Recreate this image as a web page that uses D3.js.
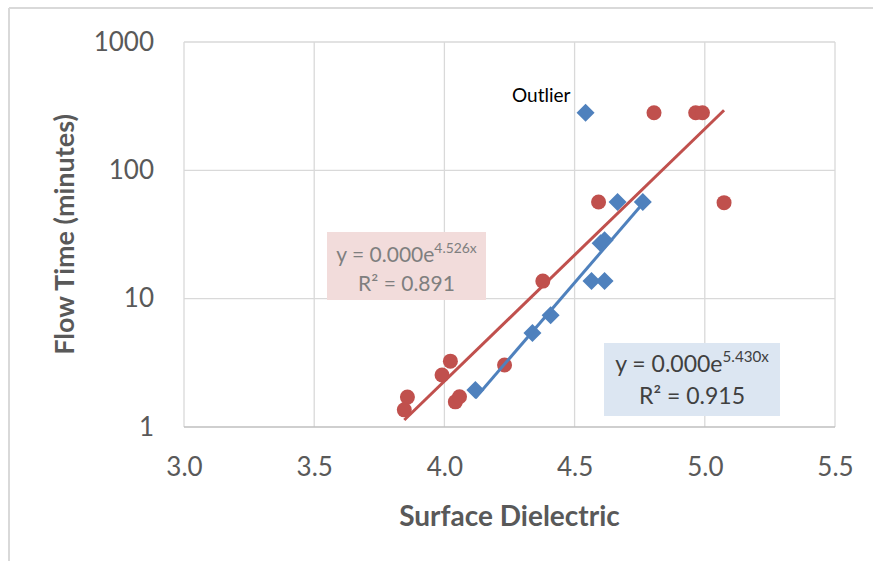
<!DOCTYPE html>
<html>
<head>
<meta charset="utf-8">
<script src="https://cdn.jsdelivr.net/npm/d3@7"></script>
<style>
  html, body { margin: 0; padding: 0; background: #fff; }
  svg { display: block; font-family: Lato, "Open Sans", sans-serif; }
</style>
</head>
<body>
<svg id="chart" width="873" height="561"></svg>
<script>
// ---- data ----
const xTicks = [3.0, 3.5, 4.0, 4.5, 5.0, 5.5];
const yTicks = [1, 10, 100, 1000];

// Series 1 (blue diamonds)
const blueX = [4.119, 4.338, 4.408, 4.565, 4.615, 4.600, 4.615, 4.665, 4.762];
const blueY = [1.94, 5.39, 7.44, 13.7, 13.7, 27.0, 28.5, 56.7, 56.7];
// Outlier (blue, excluded from fit)
const outlierX = [4.542];
const outlierY = [281];

// Series 2 (red circles)
const redX = [3.846, 3.858, 3.991, 4.023, 4.042, 4.058, 4.231, 4.378, 4.592, 4.805, 4.965, 4.991, 5.074];
const redY = [1.36, 1.71, 2.54, 3.26, 1.57, 1.72, 3.04, 13.7, 56.7, 281, 281, 281, 56];

// Trendline exponents (from equations)
const blueSlope = 5.430;
const redSlope = 4.526;
const blueEq = ["y = 0.000e", "5.430x", "R² = 0.915"];
const redEq = ["y = 0.000e", "4.526x", "R² = 0.891"];

// ---- chart ----
const svg = d3.select("#chart");
const W = 873, H = 561;
const plot = { left: 184, right: 835, top: 42, bottom: 427 };

const x = d3.scaleLinear().domain([3.0, 5.5]).range([plot.left, plot.right]);
const y = d3.scaleLog().domain([1, 1000]).range([plot.bottom, plot.top]);

// outer border (left and top)
svg.append("line").attr("x1", 9).attr("x2", 9).attr("y1", 8).attr("y2", H)
  .attr("stroke", "#d9d9d9").attr("stroke-width", 2);
svg.append("line").attr("x1", 9).attr("x2", W).attr("y1", 8).attr("y2", 8)
  .attr("stroke", "#d9d9d9").attr("stroke-width", 2);

// gridlines
svg.append("g").selectAll("line").data(xTicks).join("line")
  .attr("x1", d => x(d)).attr("x2", d => x(d))
  .attr("y1", plot.top).attr("y2", plot.bottom)
  .attr("stroke", "#d9d9d9").attr("stroke-width", 1.3);
svg.append("g").selectAll("line").data(yTicks).join("line")
  .attr("x1", plot.left).attr("x2", plot.right)
  .attr("y1", d => y(d)).attr("y2", d => y(d))
  .attr("stroke", d => d === 1 ? "#bfbfbf" : "#d9d9d9").attr("stroke-width", 1.3);

// axes (labels only)
const xAxis = d3.axisBottom(x).tickValues(xTicks).tickFormat(d3.format(".1f")).tickSize(0).tickPadding(31);
const gx = svg.append("g").attr("transform", `translate(0,${plot.bottom})`).call(xAxis);
gx.select(".domain").remove();
gx.selectAll("text").attr("font-size", 26).attr("fill", "#595959").attr("font-family", "Lato, sans-serif");

const yAxis = d3.axisLeft(y).tickValues(yTicks).tickFormat(d3.format("d")).tickSize(0).tickPadding(30);
const gy = svg.append("g").attr("transform", `translate(${plot.left},0)`).call(yAxis);
gy.select(".domain").remove();
gy.selectAll("text").attr("font-size", 26).attr("fill", "#595959").attr("font-family", "Lato, sans-serif");

// axis titles
svg.append("text").attr("x", (plot.left + plot.right) / 2).attr("y", 526)
  .attr("text-anchor", "middle").attr("font-size", 28).attr("font-weight", "bold")
  .attr("fill", "#595959").text("Surface Dielectric");
svg.append("text").attr("transform", `translate(74,${(plot.top + plot.bottom) / 2}) rotate(-90)`)
  .attr("text-anchor", "middle").attr("font-size", 27).attr("font-weight", "bold")
  .attr("fill", "#595959").text("Flow Time (minutes)");

// trendlines (exponential, intercept by least squares with fixed exponent)
function trend(xs, ys, b) {
  const mx = d3.mean(xs), ml = d3.mean(ys, v => Math.log(v));
  const lnA = ml - b * mx;
  const [x0, x1] = d3.extent(xs);
  return [[x0, Math.exp(lnA + b * x0)], [x1, Math.exp(lnA + b * x1)]];
}
const line = d3.line().x(d => x(d[0])).y(d => y(d[1]));
const redTrend = trend(redX, redY, redSlope);
const blueTrend = trend(blueX, blueY, blueSlope);

const red = "#c0504d", blue = "#4f81bd";

// red points
svg.append("g").selectAll("circle").data(redX.map((v, i) => [v, redY[i]])).join("circle")
  .attr("cx", d => x(d[0])).attr("cy", d => y(d[1])).attr("r", 7.5).attr("fill", red);

// blue points
const sq = d3.symbol().type(d3.symbolSquare).size(162);
const bluePts = blueX.map((v, i) => [v, blueY[i]]).concat(outlierX.map((v, i) => [v, outlierY[i]]));
svg.append("g").selectAll("path").data(bluePts).join("path")
  .attr("d", sq).attr("transform", d => `translate(${x(d[0])},${y(d[1])}) rotate(45)`)
  .attr("fill", blue);

svg.append("path").datum(redTrend).attr("d", line).attr("stroke", red)
  .attr("stroke-width", 3).attr("fill", "none");
svg.append("path").datum(blueTrend).attr("d", line).attr("stroke", blue)
  .attr("stroke-width", 3).attr("fill", "none");

// outlier label
svg.append("text").attr("x", 512).attr("y", 102).attr("font-size", 19)
  .attr("fill", "#000").text("Outlier");

// equation boxes
function eqBox(rx, ry, rw, rh, fill, color, fs, eq, b1, b2) {
  const g = svg.append("g");
  g.append("rect").attr("x", rx).attr("y", ry).attr("width", rw).attr("height", rh).attr("fill", fill);
  const cx = rx + rw / 2;
  const t1 = g.append("text").attr("x", cx).attr("y", b1).attr("text-anchor", "middle")
    .attr("font-size", fs).attr("fill", color);
  t1.append("tspan").text(eq[0]);
  t1.append("tspan").attr("dy", -fs * 0.42).attr("font-size", fs * 0.66).text(eq[1]);
  g.append("text").attr("x", cx).attr("y", b2).attr("text-anchor", "middle")
    .attr("font-size", fs).attr("fill", color).text(eq[2]);
}
eqBox(327, 232, 159, 68, "#f2dcdb", "#7f7f7f", 21, redEq, 262, 291);
eqBox(604, 343, 176, 73, "#dce6f2", "#404040", 23, blueEq, 372, 404);
</script>
</body>
</html>
